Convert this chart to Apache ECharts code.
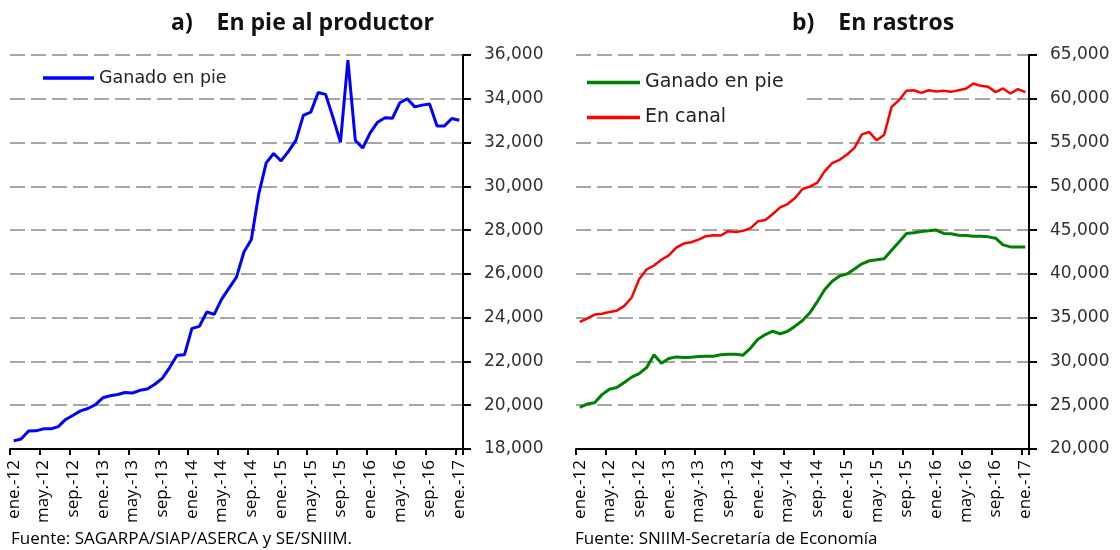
<!DOCTYPE html>
<html>
<head>
<meta charset="utf-8">
<script src="https://cdn.jsdelivr.net/npm/echarts@6/dist/echarts.min.js"></script>
<style>
  html, body { margin: 0; padding: 0; background: #fff; }
  #chart { width: 1120px; height: 550px; }
</style>
</head>
<body>
<div id="chart"></div>
<script>
// meses ene.-12 ... ene.-17
const monthNames = ['ene.', 'feb.', 'mar.', 'abr.', 'may.', 'jun.', 'jul.', 'ago.', 'sep.', 'oct.', 'nov.', 'dic.'];
const years = ['12', '13', '14', '15', '16', '17'];
const months = [];
years.forEach(function (y, k) {
  monthNames.forEach(function (m, j) {
    if (k < years.length - 1 || j === 0) months.push(m + '-' + y);
  });
});

// a) En pie al productor
const pieProductor = [
  18370, 18460, 18820, 18830, 18920, 18920, 19020, 19350, 19540, 19740,
  19850, 20030, 20340, 20430, 20490, 20580, 20560, 20680, 20740, 20960,
  21230, 21720, 22280, 22310, 23510, 23600, 24260, 24150, 24850, 25350,
  25850, 27000, 27570, 29660, 31070, 31500, 31160, 31600, 32100, 33240,
  33390, 34290, 34200, 33140, 32010, 35770, 32100, 31750, 32440, 32930,
  33130, 33110, 33820, 34000, 33630, 33710, 33760, 32760, 32760, 33100,
  33020
];

// b) En rastros
const rastrosPie = [
  24750, 25130, 25290, 26210, 26830, 27020, 27600, 28210, 28600, 29290,
  30760, 29790, 30330, 30520, 30450, 30490, 30560, 30600, 30600, 30760,
  30830, 30830, 30720, 31530, 32530, 33070, 33450, 33140, 33450, 34030,
  34680, 35570, 36840, 38220, 39150, 39760, 40000, 40570, 41150, 41500,
  41610, 41730, 42690, 43650, 44620, 44690, 44850, 44920, 45000, 44620,
  44580, 44420, 44380, 44310, 44310, 44230, 44080, 43310, 43080, 43080,
  43080
];
const rastrosCanal = [
  34530, 34900, 35350, 35450, 35650, 35800, 36350, 37300, 39400, 40500,
  40960, 41610, 42110, 43000, 43460, 43610, 43920, 44310, 44420, 44380,
  44880, 44770, 44920, 45230, 46000, 46150, 46840, 47600, 47980, 48670,
  49700, 49970, 50430, 51730, 52650, 53030, 53640, 54400, 55940, 56200,
  55250, 55900, 59070, 59840, 60910, 60980, 60680, 60980, 60830, 60910,
  60790, 60980, 61140, 61750, 61480, 61370, 60760, 61180, 60600, 61100,
  60760
];

const gridLine = { show: true, lineStyle: { color: '#a6a6a6', width: 2, type: [15, 6] } };
const blackLine = { show: true, lineStyle: { color: '#000', width: 2 } };

function xAxisFor (gridIndex) {
  return {
    type: 'category',
    gridIndex: gridIndex,
    data: months,
    boundaryGap: true,
    axisLine: blackLine,
    axisTick: { show: true, interval: 3, length: 6, lineStyle: { color: '#000', width: 2 } },
    axisLabel: {
      interval: 3, rotate: 90, margin: 11,
      fontFamily: 'Open Sans', fontSize: 17, color: '#000'
    },
    splitLine: { show: false }
  };
}

function yAxisFor (gridIndex, min, max, step) {
  return {
    type: 'value',
    gridIndex: gridIndex,
    position: 'right',
    min: min, max: max, interval: step,
    axisLine: blackLine,
    axisTick: { show: true, length: 8, lineStyle: { color: '#000', width: 2 } },
    axisLabel: {
      margin: 21, fontFamily: 'DejaVu Sans', fontSize: 17, color: '#33302c',
      formatter: function (v) { return v.toLocaleString('en-US'); }
    },
    splitLine: gridLine
  };
}

const option = {
  backgroundColor: '#fff',
  animation: false,
  title: [
    { text: 'a)    En pie al productor', left: 166, top: 7,
      textStyle: { fontFamily: 'Open Sans', fontWeight: 'bold', fontSize: 23, color: '#111' } },
    { text: 'b)    En rastros', left: 787, top: 7,
      textStyle: { fontFamily: 'Open Sans', fontWeight: 'bold', fontSize: 23, color: '#111' } },
    { text: 'Fuente: SAGARPA/SIAP/ASERCA y SE/SNIIM.', left: 11, top: 531, padding: 0,
      textStyle: { fontFamily: 'Open Sans', fontWeight: 'normal', fontSize: 17, color: '#000' } },
    { text: 'Fuente: SNIIM-Secretaría de Economía', left: 575, top: 531, padding: 0,
      textStyle: { fontFamily: 'Open Sans', fontWeight: 'normal', fontSize: 17, color: '#000' } }
  ],
  legend: [
    {
      data: [{ name: 'Ganado en pie', icon: 'rect' }],
      left: 43, top: 69, padding: 0,
      itemWidth: 51, itemHeight: 3.5,
      textStyle: { fontFamily: 'DejaVu Sans', fontSize: 17.5, color: '#222' }
    },
    {
      data: [{ name: 'Ganado en pie ', icon: 'rect' }, { name: 'En canal', icon: 'rect' }],
      orient: 'vertical',
      left: 575, top: 69, padding: [4, 12, 4, 12],
      itemWidth: 53, itemHeight: 3.5, itemGap: 16,
      backgroundColor: '#fff',
      textStyle: { fontFamily: 'DejaVu Sans', fontSize: 19, color: '#222' }
    }
  ],
  grid: [
    { left: 10, right: 657, top: 55, bottom: 101 },
    { left: 576, right: 91, top: 55, bottom: 101 }
  ],
  xAxis: [xAxisFor(0), xAxisFor(1)],
  yAxis: [yAxisFor(0, 18000, 36000, 2000), yAxisFor(1, 20000, 65000, 5000)],
  series: [
    {
      name: 'Ganado en pie', type: 'line', xAxisIndex: 0, yAxisIndex: 0,
      data: pieProductor, symbol: 'none', color: '#0000ff',
      lineStyle: { width: 3, color: '#0000ff' }
    },
    {
      name: 'Ganado en pie ', type: 'line', xAxisIndex: 1, yAxisIndex: 1,
      data: rastrosPie, symbol: 'none', color: '#008000',
      lineStyle: { width: 3, color: '#008000' }
    },
    {
      name: 'En canal', type: 'line', xAxisIndex: 1, yAxisIndex: 1,
      data: rastrosCanal, symbol: 'none', color: '#ff0000',
      lineStyle: { width: 2.5, color: '#ff0000' }
    }
  ]
};

const chart = echarts.init(document.getElementById('chart'), null, { renderer: 'canvas' });
chart.setOption(option);
</script>
</body>
</html>
